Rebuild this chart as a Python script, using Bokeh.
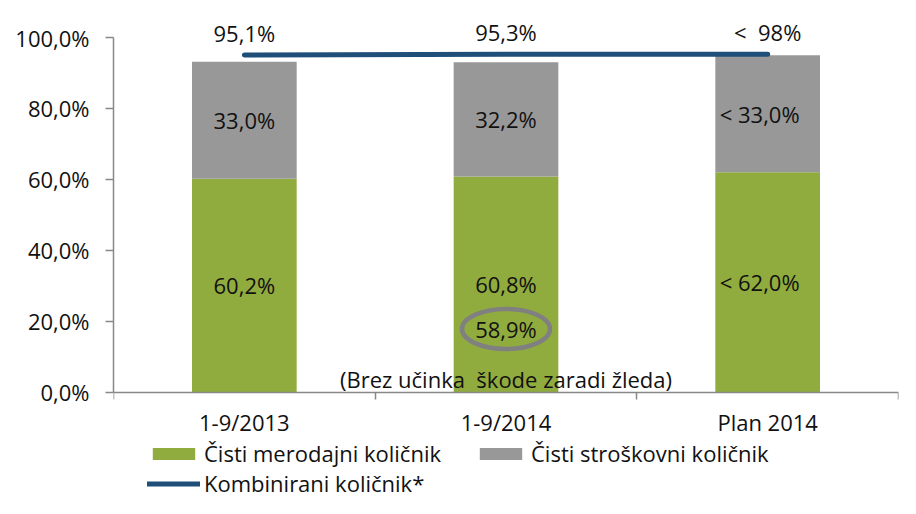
from bokeh.plotting import figure
from bokeh.models import Range1d, FixedTicker, Legend, LegendItem
from bokeh.core.properties import value
from bokeh.embed import file_html
from bokeh.resources import INLINE

categories = ["1-9/2013", "1-9/2014", "Plan 2014"]
merodajni = [60.2, 60.8, 62.0]
stroskovni = [33.0, 32.2, 33.0]
kombinirani = [95.1, 95.3, 95.3]
kombinirani_labels = ["95,1%", "95,3%", "<\u00a0 98%"]
bar_prefix = ["", "", "< "]
y_ticks = [0, 20, 40, 60, 80, 100]
note_value = 58.9
note_text = "(Brez učinka\u00a0 škode zaradi žleda)"
series_names = ["Čisti merodajni količnik", "Čisti stroškovni količnik", "Kombinirani količnik*"]

GREEN = "#91ac3e"
GRAY = "#989898"
BLUE = "#1f4e79"
TXT = "#111111"
FONT = "Open Sans"
FS = "22px"
AXIS = "#888888"


def pct(v):
    return f"{v:.1f}".replace(".", ",") + "%"


xs = [i + 0.5 for i in range(len(categories))]
label_dx = [-8 if pre else 0 for pre in bar_prefix]

p = figure(width=900, height=498, output_backend="svg", toolbar_location=None,
           x_range=Range1d(0, len(categories)), y_range=Range1d(-30.0, 106.5),
           min_border_left=113, min_border_right=2, min_border_top=14, min_border_bottom=0)
p.outline_line_color = None
p.background_fill_color = "white"
p.border_fill_color = "white"
p.xgrid.visible = False
p.ygrid.visible = False

r_green = p.vbar(x=xs, bottom=0, top=merodajni, width=0.4, fill_color=GREEN, line_color=None)
tops = [m + s for m, s in zip(merodajni, stroskovni)]
r_gray = p.vbar(x=xs, bottom=merodajni, top=tops, width=0.4, fill_color=GRAY, line_color=None)
r_line = p.line(x=xs, y=kombinirani, line_color=BLUE, line_width=5, line_cap="round")

# bar labels
p.text(x=xs, y=[m / 2 for m in merodajni], x_offset=label_dx,
       text=[pre + pct(m) for pre, m in zip(bar_prefix, merodajni)],
       text_align="center", text_baseline="middle", text_font=value(FONT),
       text_font_size=FS, text_color=TXT)
p.text(x=xs, y=[m + s / 2 for m, s in zip(merodajni, stroskovni)], x_offset=label_dx,
       text=[pre + pct(s) for pre, s in zip(bar_prefix, stroskovni)],
       text_align="center", text_baseline="middle", text_font=value(FONT),
       text_font_size=FS, text_color=TXT)
p.text(x=xs, y=kombinirani, text=kombinirani_labels, y_offset=-7,
       text_align="center", text_baseline="bottom", text_font=value(FONT),
       text_font_size=FS, text_color=TXT)

# note: 58,9% circled + text
p.ellipse(x=[xs[1]], y=[17.8], width=[88], height=[40], width_units="screen",
          height_units="screen", fill_color=None, line_color="#808080", line_width=4.5)
p.text(x=[xs[1]], y=[17.8], text=[pct(note_value)], text_align="center",
       text_baseline="middle", text_font=value(FONT), text_font_size=FS, text_color=TXT)
p.text(x=[xs[1]], y=[3.6], text=[note_text], text_align="center",
       text_baseline="middle", text_font=value(FONT), text_font_size=FS, text_color=TXT)

# axes
ya = p.yaxis[0]
ya.ticker = FixedTicker(ticks=y_ticks)
ya.bounds = (0, 100)
ya.major_label_overrides = {t: pct(t) for t in y_ticks}
ya.axis_line_color = AXIS
ya.axis_line_width = 1.5
ya.major_tick_line_color = AXIS
ya.major_tick_line_width = 1.5
ya.major_tick_out = 8
ya.major_tick_in = 0
ya.minor_tick_line_color = None
ya.major_label_standoff = 16
ya.major_label_text_font = FONT
ya.major_label_text_font_size = FS
ya.major_label_text_color = TXT

xa = p.xaxis[0]
xa.fixed_location = 0
xa.ticker = FixedTicker(ticks=xs, minor_ticks=list(range(len(categories) + 1)))
xa.major_label_overrides = {x: c for x, c in zip(xs, categories)}
xa.axis_line_color = AXIS
xa.axis_line_width = 1.5
xa.major_tick_line_color = None
xa.major_tick_out = 0
xa.major_tick_in = 0
xa.minor_tick_line_color = AXIS
xa.minor_tick_line_width = 1.5
xa.minor_tick_out = 7
xa.minor_tick_in = 0
xa.major_label_standoff = 8
xa.major_label_text_font = FONT
xa.major_label_text_font_size = FS
xa.major_label_text_color = TXT

legend = Legend(items=[LegendItem(label=series_names[0], renderers=[r_green]),
                       LegendItem(label=series_names[1], renderers=[r_gray]),
                       LegendItem(label=series_names[2], renderers=[r_line])],
                location=(34, 0), orientation="horizontal", ncols=2,
                glyph_width=53, glyph_height=15, label_width=270, label_height=30,
                label_standoff=4, spacing=0, padding=0, margin=0,
                border_line_color=None, background_fill_alpha=0,
                label_text_font=FONT, label_text_font_size=FS, label_text_color=TXT)
p.add_layout(legend, "center")

open("out.html", "w").write(file_html(p, INLINE))
